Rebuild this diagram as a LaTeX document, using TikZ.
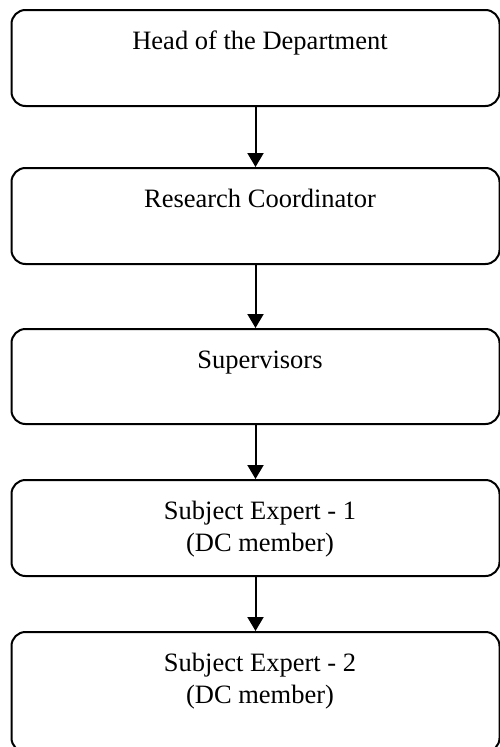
\documentclass[tikz,border=0pt]{standalone}
\usepackage{fontspec}
\setmainfont{Liberation Serif}
\usetikzlibrary{arrows.meta}
\begin{document}
\begin{tikzpicture}[x=1pt,y=-1pt,
  box/.style={draw, line width=2pt, rounded corners=14pt, minimum width=488pt, inner sep=0pt},
  lab/.style={anchor=base, align=center, font=\fontsize{26.5}{32}\selectfont, yshift=-40pt, xshift=4.5pt, inner sep=0pt},
  lab2/.style={lab, yshift=-32pt},
  conn/.style={line width=2pt, -{Triangle[width=16pt,length=14pt]}}]
\useasboundingbox (0,0) rectangle (499,747);
\node[box, minimum height=96pt, label={[lab]north:Head of the Department}] (b1) at (255.5,58) {};
\node[box, minimum height=96pt, label={[lab]north:Research Coordinator}] (b2) at (255.5,216) {};
\node[box, minimum height=95pt, label={[lab]north:Supervisors}] (b3) at (255.5,376.5) {};
\node[box, minimum height=96pt, label={[lab2]north:Subject Expert - 1\\(DC member)}] (b4) at (255.5,528) {};
\node[box, minimum height=120pt, label={[lab2]north:Subject Expert - 2\\(DC member)}] (b5) at (255.5,692) {};
\draw[conn] (b1.south) -- (b2.north);
\draw[conn] (b2.south) -- (b3.north);
\draw[conn] (b3.south) -- (b4.north);
\draw[conn] (b4.south) -- (b5.north);
\end{tikzpicture}
\end{document}
